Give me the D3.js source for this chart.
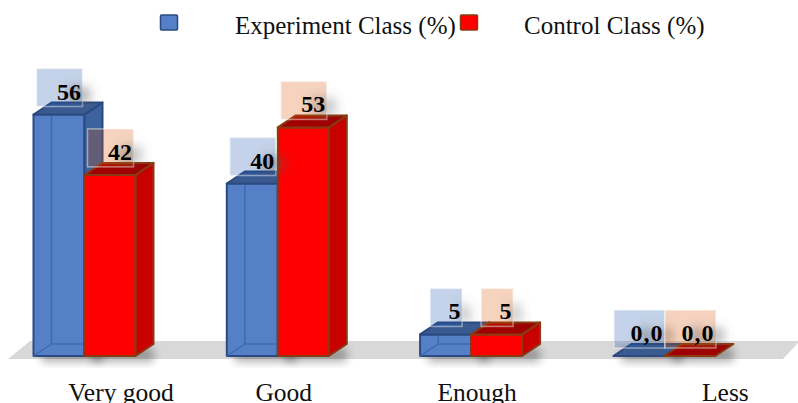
<!DOCTYPE html>
<html>
<head>
<meta charset="utf-8">
<script src="https://cdn.jsdelivr.net/npm/d3@7"></script>
<style>
  html, body { margin: 0; padding: 0; background: #fff; overflow: hidden; }
  svg { display: block; }
  text { font-family: "Liberation Serif", serif; fill: #111; }
</style>
</head>
<body>
<script>
// Chart data
const categories = ["Very good", "Good", "Enough", "Less"];
const experimentValues = [56, 40, 5, 0];
const controlValues = [42, 53, 5, 0];
const seriesNames = ["Experiment Class (%)", "Control Class (%)"];

// Horizontal nudges of the category captions relative to their group centres
const captionShift = [36.5, 6, 6, 61];

const width = 798, height = 403;
const baseY = 356, depthX = 18, depthY = 12;

const palette = [
  { front: "#5580C8", side: "#3C62A0", top: "#3A5B92", stroke: "#2B4A80",
    box: "#1850AC" },
  { front: "#FF0000", side: "#C80000", top: "#A00000", stroke: "#8A3A12",
    box: "#D74F00" }
];

const svg = d3.select("body").append("svg")
  .attr("width", width).attr("height", height);

const defs = svg.append("defs");
const textShadow = defs.append("filter").attr("id", "textShadow")
  .attr("x", "-60%").attr("y", "-60%").attr("width", "260%").attr("height", "240%");
textShadow.append("feGaussianBlur").attr("stdDeviation", 6);

const barShadow = defs.append("filter").attr("id", "barShadow")
  .attr("x", "-30%").attr("y", "-30%").attr("width", "170%").attr("height", "170%");
barShadow.append("feGaussianBlur").attr("stdDeviation", 4);

// Scales
const x0 = d3.scaleBand().domain(d3.range(categories.length))
  .range([33.5, 33.5 + 193.3 * 3 + 102]).paddingInner(91.3 / 193.3).paddingOuter(0);
const x1 = d3.scaleBand().domain([0, 1]).range([0, x0.bandwidth()]);
const y = d3.scaleLinear().domain([0, 56]).range([baseY, 114.5]);

const rows = [];
categories.forEach((c, i) => {
  [experimentValues[i], controlValues[i]].forEach((v, s) => {
    rows.push({ cat: i, series: s, value: v });
  });
});
const poly = pts => pts.map(p => p.join(",")).join(" ");

// Floor plane
const floorLeft = x0(0) - 25.5, floorRight = 783;
svg.append("polygon")
  .attr("fill", "#D9D8D8")
  .attr("points", poly([
    [floorLeft, baseY + 3], [floorRight, baseY + 3],
    [floorRight + 17, baseY - 15], [floorLeft + 22, baseY - 15]
  ]));

// Soft shadows cast by the columns on the floor
svg.append("g").selectAll("rect").data(rows).join("rect")
  .attr("x", d => x0(d.cat) + x1(d.series) + 8)
  .attr("width", x1.bandwidth() + 10)
  .attr("y", baseY - 8)
  .attr("height", 14)
  .attr("fill", "#000").attr("opacity", 0.3)
  .attr("filter", "url(#barShadow)");

// Columns: back edges, front, side and top faces
const bars = svg.append("g").selectAll("g").data(rows).join("g")
  .attr("stroke-linejoin", "round");

bars.each(function (d) {
  const g = d3.select(this), c = palette[d.series];
  const l = x0(d.cat) + x1(d.series), r = l + x1.bandwidth();
  const t = y(d.value), b = baseY;

  if (d.value > 0) {
    g.append("polygon").attr("points", poly([[l, t], [r, t], [r, b], [l, b]]))
      .attr("fill", c.front).attr("stroke", c.stroke).attr("stroke-width", 2);
    if (d.series === 0) {
      // Hidden edges seen through the translucent blue front
      g.append("path")
        .attr("d", `M${l + depthX},${t - depthY}V${b - depthY}H${r}M${l},${b}L${l + depthX},${b - depthY}`)
        .attr("fill", "none").attr("stroke", "#3F69AE").attr("stroke-width", 1.5);
    }
    g.append("polygon")
      .attr("points", poly([[r, t], [r + depthX, t - depthY], [r + depthX, b - depthY], [r, b]]))
      .attr("fill", c.side).attr("stroke", c.stroke).attr("stroke-width", 2);
  }
  g.append("polygon")
    .attr("points", poly([[l, t], [l + depthX, t - depthY], [r + depthX, t - depthY], [r, t]]))
    .attr("fill", c.top).attr("stroke", c.stroke).attr("stroke-width", 2);
});

// Value labels
const formatValue = v => v === 0 ? "0,0" : String(v);
const boxWidth = v => v === 0 ? 51 : (v < 10 ? 32 : 46);
const boxHeight = 38;
const labelSpacing = v => v === 0 ? 1 : 0;

const labels = svg.append("g").selectAll("g").data(rows).join("g")
  .attr("transform", d => {
    const cx = x0(d.cat) + x1(d.series) + x1.bandwidth() / 2 + 0.5;
    return `translate(${cx},${y(d.value) - 8})`;
  });

labels.append("rect")
  .attr("x", d => -boxWidth(d.value) / 2)
  .attr("y", -boxHeight)
  .attr("width", d => boxWidth(d.value))
  .attr("height", boxHeight)
  .attr("fill", d => palette[d.series].box)
  .attr("fill-opacity", 0.25)
  .attr("stroke", "#fff").attr("stroke-opacity", 0.45).attr("stroke-width", 1.5);

labels.append("text")
  .attr("x", d => boxWidth(d.value) / 2 + 8)
  .attr("y", -5)
  .attr("text-anchor", "end")
  .attr("font-size", 24).attr("font-weight", "bold")
  .attr("letter-spacing", d => labelSpacing(d.value))
  .style("fill", "#555")
  .attr("filter", "url(#textShadow)")
  .text(d => formatValue(d.value));

labels.append("text")
  .attr("x", d => boxWidth(d.value) / 2 - 1.5)
  .attr("y", -7)
  .attr("text-anchor", "end")
  .attr("font-size", 24).attr("font-weight", "bold")
  .attr("letter-spacing", d => labelSpacing(d.value))
  .style("fill", "#000")
  .text(d => formatValue(d.value));

// Category captions
svg.append("g").selectAll("text").data(categories).join("text")
  .attr("x", (d, i) => x0(i) + x0.bandwidth() / 2 + captionShift[i])
  .attr("y", 401)
  .attr("text-anchor", "middle")
  .attr("font-size", 25.5)
  .text(d => d);

// Legend
const legendSwatchX = [160.5, 460.5];
const legendTextX = [235, 524];
const legend = svg.append("g").selectAll("g").data(seriesNames).join("g");
legend.append("rect")
  .attr("x", (d, i) => legendSwatchX[i]).attr("y", 15)
  .attr("width", 17).attr("height", 15).attr("rx", 1)
  .attr("fill", (d, i) => palette[i].front)
  .attr("stroke", (d, i) => palette[i].stroke).attr("stroke-width", 1.5);
legend.append("text")
  .attr("x", (d, i) => legendTextX[i]).attr("y", 34)
  .attr("font-size", 25)
  .text(d => d);
</script>
</body>
</html>
